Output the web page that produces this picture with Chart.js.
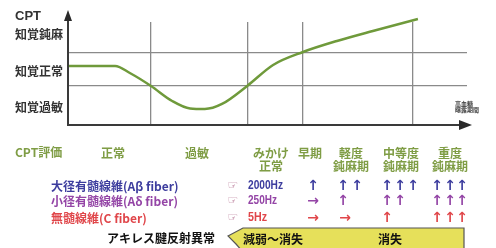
<!DOCTYPE html>
<html>
<head>
<meta charset="utf-8">
<script src="https://cdn.jsdelivr.net/npm/chart.js@4"></script>
<style>
html, body { margin: 0; padding: 0; background: #fff; overflow: hidden; }
</style>
</head>
<body>
<canvas id="myChart" width="496" height="248"></canvas>
<script>
// CPT curve over exposure time (x: 0-100, y: 0-10)
const curveX = [0, 11.8, 15.5, 20.8, 26.1, 30.6, 34.3, 38.6, 44.9, 51.4, 58.9, 67.4, 76.4, 87.7]
const curveY = [5.73, 5.73, 5.05, 3.79, 2.33, 1.6, 1.55, 2.04, 3.79, 5.83, 7.09, 8.16, 9.13, 10.29]
const stageLines = [20.8, 44.9, 58.9, 86.5]
const levelLines = [3.8, 7.0]

const yTitle = 'CPT'
const yLabels = ['知覚鈍麻', '知覚正常', '知覚過敏']
const xTitle = ['高血糖', '曝露期間']
const evalTitle = 'CPT評価'
const stages = [['正常'], ['過敏'], ['みかけ', '正常'], ['早期'], ['軽度', '鈍麻期'], ['中等度', '鈍麻期'], ['重度', '鈍麻期']]
const fibers = ['大径有髄線維(Aβ fiber)', '小径有髄線維(Aδ fiber)', '無髄線維(C fiber)']
const freqs = ['2000Hz', '250Hz', '5Hz']
const arrows2000 = ['↑', '↑↑', '↑↑↑', '↑↑↑']
const arrows250 = ['→', '↑', '↑↑', '↑↑↑']
const arrows5 = ['→', '→', '↑', '↑↑↑']
const reflexTitle = 'アキレス腱反射異常'
const reflex = ['減弱～消失', '消失']

const JP = '"Noto Sans CJK JP", sans-serif'
const LAT = '"Liberation Sans", Arial, sans-serif'

function txt(ctx, s, x, y, font, color, align, maxW) {
  ctx.font = font
  ctx.fillStyle = color
  ctx.textAlign = align || 'left'
  ctx.textBaseline = 'middle'
  if (maxW) ctx.fillText(s, x, y, maxW)
  else ctx.fillText(s, x, y)
}

const extras = {
  id: 'extras',
  afterDraw(chart) {
    const ctx = chart.ctx
    const a = chart.chartArea
    ctx.save()
    // axes with arrow heads
    ctx.strokeStyle = '#3a3a3a'
    ctx.fillStyle = '#2a2a2a'
    ctx.lineWidth = 2
    ctx.beginPath()
    ctx.moveTo(a.left, a.bottom)
    ctx.lineTo(a.left, 19)
    ctx.moveTo(a.left - 1, a.bottom)
    ctx.lineTo(461, a.bottom)
    ctx.stroke()
    ctx.beginPath()
    ctx.moveTo(a.left, 10); ctx.lineTo(a.left - 4, 21); ctx.lineTo(a.left + 4, 21); ctx.closePath()
    ctx.fill()
    ctx.beginPath()
    ctx.moveTo(472, a.bottom); ctx.lineTo(459, a.bottom - 5); ctx.lineTo(459, a.bottom + 5); ctx.closePath()
    ctx.fill()

    // y labels
    txt(ctx, yTitle, 15, 16, 'bold 13px ' + LAT, '#333', 'left', 27)
    const ly = [34, 71, 107]
    yLabels.forEach((s, i) => txt(ctx, s, 15, ly[i], 'bold 12px ' + JP, '#333', 'left', 50))
    txt(ctx, xTitle[0], 455, 104, 'bold 6px ' + JP, '#444', 'left')
    txt(ctx, xTitle[1], 455, 110, 'bold 6px ' + JP, '#444', 'left')

    // evaluation row
    const green = '#7f9d45'
    txt(ctx, evalTitle, 15, 152, 'bold 12px ' + JP, green, 'left', 52)
    const sx = [113, 197, 271, 310, 351, 401, 450]
    stages.forEach((lines, i) => {
      lines.forEach((s, j) => txt(ctx, s, sx[i], 153 + j * 13, 'bold 12px ' + JP, green, 'center'))
    })

    // fibers
    const colors = ['#3d3d9e', '#9445a6', '#e0464a']
    const ry = [186, 201, 218]
    const fw = [137, 138, 98]
    fibers.forEach((s, i) => {
      txt(ctx, s, 51, ry[i], 'bold 12px ' + JP, colors[i], 'left', fw[i])
      txt(ctx, '☞', 233, ry[i], '12px "DejaVu Sans"', '#b06a8c', 'center')
      txt(ctx, freqs[i], 248, ry[i], 'bold 12px ' + LAT, colors[i], 'left', [35, 29, 19][i])
    })
    const cols = [[313], [343, 357], [387, 400, 413], [437, 450, 462]]
    ;[arrows2000, arrows250, arrows5].forEach((row, i) => {
      row.forEach((s, k) => {
        const chars = Array.from(s)
        chars.forEach((c, m) => {
          const x = cols[k][m] + (c === '→' && k === 1 ? 2 : 0)
          txt(ctx, c, x, ry[i], 'bold 14px "DejaVu Sans"', colors[i], 'center')
        })
      })
    })

    // reflex banner
    txt(ctx, reflexTitle, 107, 238, 'bold 12px ' + JP, '#111', 'left', 110)
    ctx.beginPath()
    ctx.moveTo(228, 236); ctx.lineTo(243, 228); ctx.lineTo(464, 228); ctx.lineTo(464, 252); ctx.lineTo(243, 252); ctx.lineTo(236, 244); ctx.closePath()
    ctx.fillStyle = '#e6e05a'
    ctx.fill()
    ctx.lineWidth = 1.2
    ctx.strokeStyle = '#555'
    ctx.stroke()
    txt(ctx, reflex[0], 243, 239, 'bold 12px ' + JP, '#111', 'left', 64)
    txt(ctx, reflex[1], 378, 239, 'bold 12px ' + JP, '#111', 'left', 26)
    ctx.restore()
  }
}

const ctx = document.getElementById('myChart').getContext('2d')
new Chart(ctx, {
  type: 'line',
  data: {
    datasets: [{
      data: curveX.map((x, i) => ({ x: x, y: curveY[i] })),
      borderColor: '#6f9a3b',
      borderWidth: 2.5,
      pointRadius: 0,
      cubicInterpolationMode: 'monotone',
      fill: false,
      clip: false
    }]
  },
  options: {
    responsive: false,
    animation: false,
    layout: { padding: { left: 68, top: 22, right: 29, bottom: 123 } },
    plugins: { legend: { display: false }, tooltip: { enabled: false } },
    scales: {
      x: {
        type: 'linear', min: 0, max: 100,
        ticks: { display: false },
        border: { display: false },
        grid: { color: '#8a8a8a', lineWidth: 1.3, drawTicks: false },
        afterBuildTicks: s => { s.ticks = stageLines.map(v => ({ value: v })) }
      },
      y: {
        min: 0, max: 10,
        ticks: { display: false },
        border: { display: false },
        grid: { color: '#8a8a8a', lineWidth: 1.3, drawTicks: false },
        afterBuildTicks: s => { s.ticks = levelLines.map(v => ({ value: v })) }
      }
    }
  },
  plugins: [extras]
})
</script>
</body>
</html>
